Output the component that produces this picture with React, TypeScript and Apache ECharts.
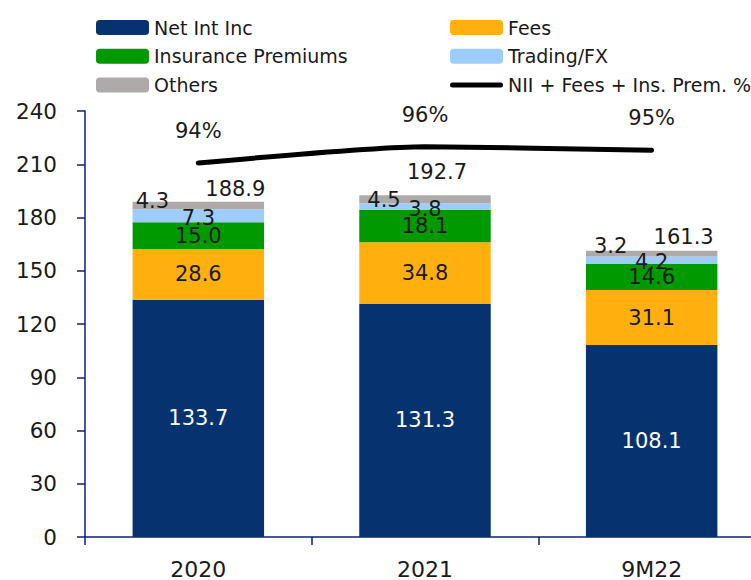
import React, { useEffect, useRef } from "react";
import * as echarts from "echarts";

const categories = ["2020", "2021", "9M22"];
const netIntInc = [133.7, 131.3, 108.1];
const fees = [28.6, 34.8, 31.1];
const insurance = [15.0, 18.1, 14.6];
const tradingFx = [7.3, 3.8, 4.2];
const others = [4.3, 4.5, 3.2];
const totals = [188.9, 192.7, 161.3];
const coreSharePct = [93.9, 95.8, 95.4];
const yTicks = [0, 30, 60, 90, 120, 150, 180, 210, 240];

// label layout (styling only)
const othersLabelOffsets = [[-46, -5], [-41, 1], [-41, -8]];
const totalLabelOffsets = [[37, -13], [12, -23], [32, -14]];

const FONT = "DejaVu Sans";
const TXT = "#1a1a1a";
const AXIS = "#0d1f7a";
const LINE_ICON =
  "path://M2.5,0 L50.5,0 A2.5,2.5 0 0 1 50.5,5 L2.5,5 A2.5,2.5 0 0 1 2.5,0 Z";

export default function App() {
  const ref = useRef<HTMLDivElement>(null);
  useEffect(() => {
    if (!ref.current) return;
    const chart = echarts.init(ref.current, undefined, { renderer: "svg" });
    const barLabel = (color: string) => ({
      show: true,
      position: "inside",
      color,
      fontFamily: FONT,
      fontSize: 21,
      formatter: (p: any) => Number(p.value).toFixed(1),
    });
    const legendText = { fontFamily: FONT, fontSize: 19, color: TXT, lineHeight: 20 };
    const legendBase = {
      top: 12.5,
      orient: "vertical",
      itemWidth: 53,
      itemHeight: 15,
      itemGap: 8.7,
      textStyle: legendText,
      selectedMode: false,
    };
    chart.setOption({
      animation: false,
      textStyle: { fontFamily: FONT },
      legend: [
        {
          ...legendBase,
          left: 91,
          data: ["Net Int Inc", "Insurance Premiums", "Others"],
        },
        {
          ...legendBase,
          left: 445,
          data: [
            "Fees",
            "Trading/FX",
            { name: "NII + Fees + Ins. Prem. %", icon: LINE_ICON },
          ],
        },
      ],
      grid: { left: 85, right: 0, top: 111, bottom: 42 },
      xAxis: {
        type: "category",
        data: categories,
        axisLine: { lineStyle: { color: AXIS, width: 1.5 } },
        axisTick: { show: true, length: 8, lineStyle: { color: AXIS, width: 1.5 } },
        axisLabel: { color: TXT, fontFamily: FONT, fontSize: 22, margin: 21 },
      },
      yAxis: [
        {
          type: "value",
          min: yTicks[0],
          max: yTicks[yTicks.length - 1],
          interval: 30,
          splitLine: { show: false },
          axisLine: { show: true, lineStyle: { color: AXIS, width: 1.5 } },
          axisTick: { show: true, length: 8, lineStyle: { color: AXIS, width: 1.5 } },
          axisLabel: { color: TXT, fontFamily: FONT, fontSize: 21.5, margin: 28 },
        },
        {
          type: "value",
          min: 50,
          max: 100,
          show: false,
          splitLine: { show: false },
        },
      ],
      series: [
        {
          name: "Net Int Inc",
          type: "bar",
          stack: "s",
          barCategoryGap: "42%",
          data: netIntInc,
          itemStyle: { color: "#06336f" },
          label: barLabel("#ffffff"),
        },
        {
          name: "Fees",
          type: "bar",
          stack: "s",
          data: fees,
          itemStyle: { color: "#ffb00e" },
          label: barLabel(TXT),
        },
        {
          name: "Insurance Premiums",
          type: "bar",
          stack: "s",
          data: insurance,
          itemStyle: { color: "#009a00" },
          label: barLabel(TXT),
        },
        {
          name: "Trading/FX",
          type: "bar",
          stack: "s",
          data: tradingFx,
          itemStyle: { color: "#9dcdff" },
          label: { ...barLabel(TXT), offset: [0, 2] },
        },
        {
          name: "Others",
          type: "bar",
          stack: "s",
          data: others.map((v, i) => ({ value: v, label: { offset: othersLabelOffsets[i] } })),
          itemStyle: { color: "#aeaaaa" },
          label: barLabel(TXT),
        },
        {
          name: "Total",
          type: "scatter",
          symbolSize: 0,
          data: totals.map((v, i) => ({ value: v, label: { offset: totalLabelOffsets[i] } })),
          itemStyle: { opacity: 1, color: "rgba(0,0,0,0)" },
          label: {
            show: true,
            position: "inside",
            color: TXT,
            fontFamily: FONT,
            fontSize: 21,
            formatter: (p: any) => Number(p.value).toFixed(1),
          },
          z: 5,
        },
        {
          name: "NII + Fees + Ins. Prem. %",
          type: "line",
          yAxisIndex: 1,
          data: coreSharePct,
          symbol: "circle",
          symbolSize: 1,
          showSymbol: true,
          smooth: 0.2,
          lineStyle: { color: "#000000", width: 5, cap: "round" },
          itemStyle: { color: "#000000" },
          label: {
            show: true,
            position: "top",
            distance: 21,
            color: TXT,
            fontFamily: FONT,
            fontSize: 21,
            formatter: (p: any) => Math.round(p.value) + "%",
          },
          z: 6,
        },
      ],
    });
    return () => chart.dispose();
  }, []);
  return (
    <div
      style={{
        position: "fixed",
        left: 0,
        top: 0,
        width: 751,
        height: 580,
        overflow: "hidden",
        background: "#fff",
      }}
    >
      <div ref={ref} style={{ width: 765, height: 580 }} />
    </div>
  );
}
